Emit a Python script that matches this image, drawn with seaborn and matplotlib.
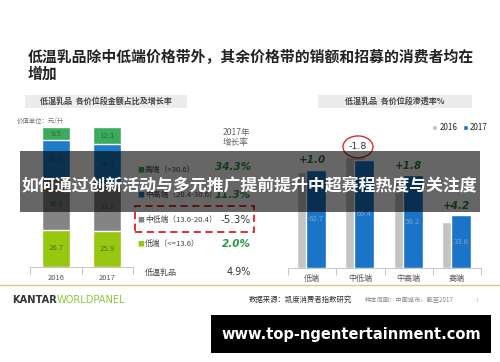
import matplotlib
matplotlib.use("Agg")
import matplotlib.pyplot as plt
import matplotlib.patches as mpatches
import numpy as np
import pandas as pd
import seaborn as sns

# left chart: share of sales value per price band (%)
years = ["2016", "2017"]
bands = ["低端", "中低端", "中高端", "高端"]
share_2016 = [26.7, 36.8, 27.0, 9.5]
share_2017 = [25.9, 33.2, 28.7, 12.1]
band_legend = ["高端（>30.6）", "中高端（20.4-30.6）", "中低端（13.6-20.4）", "低端（<=13.6）"]
growth_2017 = ["34.3%", "11.3%", "-5.3%", "2.0%"]
total_growth = "4.9%"

# right chart: penetration per price band (%)
pen_2016 = [61.7, 71.2, 57.4, 29.4]
pen_2017 = [62.7, 69.4, 59.2, 33.6]
pen_change = ["+1.0", "-1.8", "+1.8", "+4.2"]

band_colors = ["#97c80f", "#848484", "#1f7cc6", "#3aab5a"]
GREEN = "#2b9a45"

sns.set_theme(style="white")
plt.rcParams["font.family"] = ["Noto Sans CJK SC", "DejaVu Sans"]

W, H = 500, 362


def fx(px):
    return px / W


def fy(py):
    return 1 - py / H


def box(x0, y0, x1, y1):
    return [fx(x0), fy(y1), (x1 - x0) / W, (y1 - y0) / H]


fig = plt.figure(figsize=(5, 3.62), dpi=100)
fig.patch.set_facecolor("white")

# title
fig.text(fx(28), fy(57), "低温乳品除中低端价格带外，其余价格带的销额和招募的消费者均在",
         fontsize=10.7, fontweight="bold", color="#222222", va="center")
fig.text(fx(28), fy(74), "增加", fontsize=10.7, fontweight="bold", color="#222222", va="center")

# sub-title boxes
for x0, x1, label in [(25, 187, "低温乳品  各价位段金额占比及增长率"),
                      (318, 472, "低温乳品  各价位段渗透率%")]:
    fig.add_artist(mpatches.Rectangle((fx(x0), fy(108)), (x1 - x0) / W, 13 / H,
                                      transform=fig.transFigure, color="#ececec", lw=0))
    fig.text(fx((x0 + x1) / 2), fy(101.5), label, fontsize=5.8, color="#444444",
             ha="center", va="center", fontweight="bold")

fig.text(fx(17), fy(121), "价值单位：元/升", fontsize=4.6, color="#777777", va="center")

# ---- left stacked bars ----
axl = fig.add_axes(box(30, 127, 133, 267))
df_share = pd.DataFrame({"year": years})
cum = np.cumsum(np.array([share_2016, share_2017]), axis=1)
for k in range(len(bands) - 1, -1, -1):
    df_share["cum"] = cum[:, k]
    sns.barplot(data=df_share, x="year", y="cum", color=band_colors[k],
                width=0.54, saturation=1, ax=axl)
for j, vals in enumerate([share_2016, share_2017]):
    base = 0
    for v in vals:
        axl.text(j, base + v / 2, f"{v:.1f}", ha="center", va="center",
                 fontsize=5.6, color="#333333", alpha=0.6)
        base += v
axl.set_ylim(0, 100)
axl.set_xlim(-0.5, 1.5)
axl.set_xlabel("")
axl.set_ylabel("")
axl.set_yticks([])
for s in ["top", "right", "left"]:
    axl.spines[s].set_visible(False)
axl.spines["bottom"].set_color("#bbbbbb")
axl.spines["bottom"].set_linewidth(0.6)
axl.set_xticks([-0.5, 0.5, 1.5], minor=True)
axl.tick_params(axis="x", which="minor", length=5, width=0.6, color="#bbbbbb", bottom=True)
axl.tick_params(axis="x", which="major", length=0, labelsize=5.5, labelcolor="#555555", pad=5)

# left legend + growth column
fig.text(fx(236), fy(133), "2017年", fontsize=6.2, color="#666666", ha="center", va="center")
fig.text(fx(236), fy(143), "增长率", fontsize=6.2, color="#666666", ha="center", va="center")
row_y = [170, 195, 220, 244]
row_color = [band_colors[3], band_colors[2], band_colors[1], band_colors[0]]
for y, lab, c, g in zip(row_y, band_legend, row_color, growth_2017):
    fig.text(fx(137), fy(y), "■", color=c, fontsize=5, va="center")
    fig.text(fx(145), fy(y), lab, color="#444444", fontsize=5.6, va="center")
    neg = g.startswith("-")
    fig.text(fx(251), fy(y - 3 if not neg and y < 180 else y), g, ha="right", va="center",
             fontsize=7.5, family="DejaVu Sans",
             color="#333333" if neg else GREEN,
             fontweight="normal" if neg else "bold",
             style="normal" if neg else "italic")
fig.text(fx(145), fy(272), "低温乳品", color="#444444", fontsize=5.8, va="center")
fig.text(fx(251), fy(272), total_growth, ha="right", va="center", fontsize=7,
         color="#333333", family="DejaVu Sans")
fig.add_artist(mpatches.Rectangle((fx(135), fy(232)), 119 / W, 26 / H,
                                  transform=fig.transFigure, fill=False,
                                  edgecolor="#e02020", lw=1.3, ls=(0, (4, 2.5))))

# ---- right grouped bars ----
axr = fig.add_axes(box(288, 130, 481, 268))
df_pen = pd.DataFrame({
    "band": bands * 2,
    "year": ["2016"] * 4 + ["2017"] * 4,
    "pen": pen_2016 + pen_2017,
})
sns.barplot(data=df_pen, x="band", y="pen", hue="year", hue_order=years,
            palette=["#c4c4c4", "#1a74c7"], saturation=1, ax=axr)
for cont, off in zip(axr.containers, [-0.104, 0.083]):
    for i, bar in enumerate(cont):
        bar.set_width(0.41)
        bar.set_x(i + off - 0.205)
for i, v in enumerate(pen_2017):
    axr.text(i + 0.083, v / 2, f"{v:.1f}", ha="center", va="center",
             fontsize=5.6, color="#7fa3c8")
for i, (a, b, t) in enumerate(zip(pen_2016, pen_2017, pen_change)):
    top = max(a, b) + 6.3
    if t.startswith("-"):
        axr.text(i - 0.05, top, t, ha="center", va="center", fontsize=6.8, color="#333333",
                 family="DejaVu Sans")
        axr.add_patch(mpatches.Ellipse((i - 0.05, top), 0.62, 14, fill=False,
                                       edgecolor="#d23030", lw=1.0, clip_on=False))
    else:
        axr.text(i, top, t, ha="center", va="center", fontsize=7.5, color="#2e7d32",
                 fontweight="bold", style="italic", family="DejaVu Sans")
axr.set_ylim(0, 88.3)
axr.set_xlim(-0.5, 3.5)
axr.set_xlabel("")
axr.set_ylabel("")
axr.set_yticks([])
for s in ["top", "right", "left"]:
    axr.spines[s].set_visible(False)
axr.spines["bottom"].set_color("#bbbbbb")
axr.spines["bottom"].set_linewidth(0.6)
axr.set_xticks([-0.5, 0.5, 1.5, 2.5, 3.5], minor=True)
axr.tick_params(axis="x", which="minor", length=5, width=0.6, color="#bbbbbb", bottom=True)
axr.tick_params(axis="x", which="major", length=0, labelsize=5.8, labelcolor="#555555", pad=4)
sns.move_legend(axr, "center left", bbox_to_anchor=(fx(428), fy(128)),
                bbox_transform=fig.transFigure, ncol=2, title=None, frameon=False,
                fontsize=5.8, handlelength=0.6, handleheight=0.6, handletextpad=0.3,
                columnspacing=0.7, borderpad=0)

# ---- footer ----
fig.add_artist(plt.Line2D([0, 1], [fy(284.5), fy(284.5)], transform=fig.transFigure,
                          color="#d9c790", lw=1))
fig.text(fx(12), fy(300), "KANTAR", fontsize=7.1, fontweight="bold", color="#333333",
         va="center", family="DejaVu Sans")
fig.text(fx(57), fy(300), "WORLDPANEL", fontsize=7.1, color="#8cc63f", va="center",
         family="DejaVu Sans")
fig.text(fx(249), fy(300), "数据来源：凯度消费者指数研究", fontsize=5.3, color="#333333",
         va="center")
fig.text(fx(365), fy(300), "样本范围：中国城市，截至2017", fontsize=4.5, color="#888888",
         va="center")
fig.text(fx(476), fy(301), "1", fontsize=4, color="#bbbbbb", va="center")

# ---- overlay banner ----
fig.add_artist(mpatches.Rectangle((fx(20), fy(212)), 460 / W, 61 / H,
                                  transform=fig.transFigure, color="black", alpha=0.6,
                                  lw=0, zorder=10))
fig.text(fx(249), fy(185), "如何通过创新活动与多元推广提前提升中超赛程热度与关注度",
         fontsize=12.2, fontweight="bold", color="white", ha="center", va="center", zorder=11)

fig.add_artist(mpatches.Rectangle((fx(211), fy(353)), 280 / W, 38 / H,
                                  transform=fig.transFigure, color="black", lw=0, zorder=10))
fig.text(fx(351), fy(334), "www.top-ngentertainment.com", fontsize=10.5, fontweight="bold",
         color="white", ha="center", va="center", family="DejaVu Sans", zorder=11)

fig.savefig("out.png", dpi=100)
